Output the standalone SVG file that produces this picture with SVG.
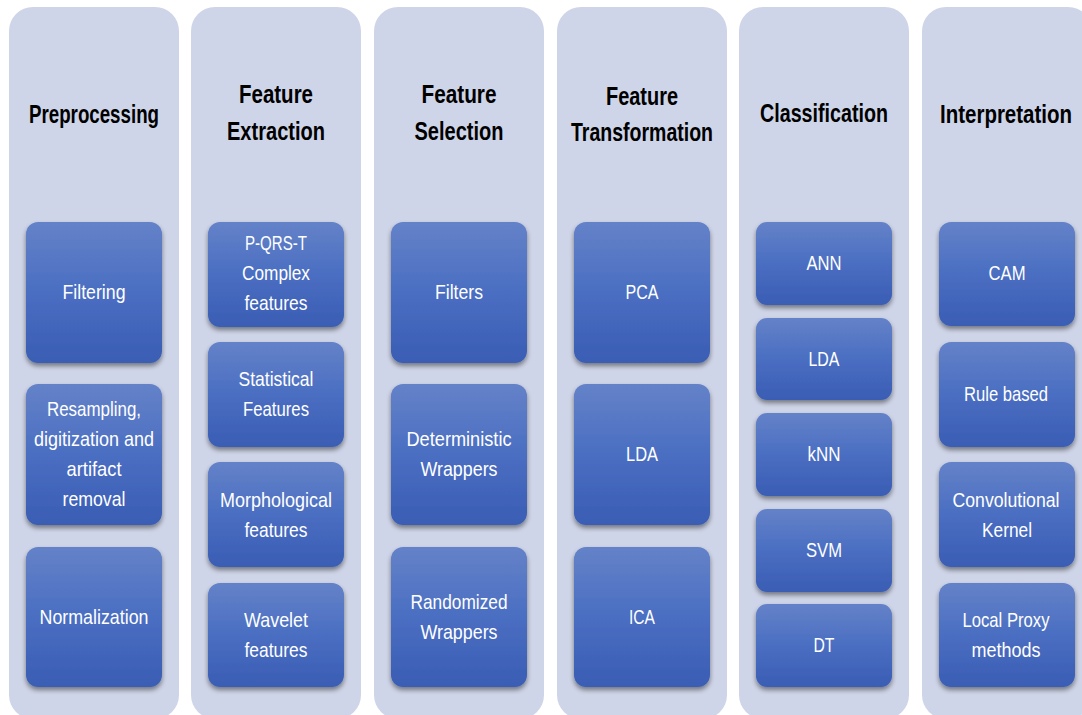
<svg xmlns="http://www.w3.org/2000/svg" width="1082" height="715" viewBox="0 0 1082 715">
  <defs>
    <linearGradient id="boxFill" x1="0" y1="0" x2="0" y2="1">
      <stop offset="0" stop-color="#6482c8"/>
      <stop offset="0.5" stop-color="#4a6ec2"/>
      <stop offset="1" stop-color="#3a5db4"/>
    </linearGradient>
    <filter id="shadow" x="-10%" y="-10%" width="120%" height="130%">
      <feGaussianBlur in="SourceAlpha" stdDeviation="2.5"/>
      <feOffset dx="0" dy="3" result="b"/>
      <feComponentTransfer><feFuncA type="linear" slope="0.45"/></feComponentTransfer>
      <feMerge><feMergeNode/><feMergeNode in="SourceGraphic"/></feMerge>
    </filter>
    <style>
      .col { fill: #cfd5e8; }
      .box { fill: url(#boxFill); filter: url(#shadow); }
      .head { font-family: "Liberation Sans", "DejaVu Sans", sans-serif; font-weight: bold; font-size: 26px; fill: #000; text-anchor: middle; }
      .lbl { font-family: "Liberation Sans", "DejaVu Sans", sans-serif; font-size: 21px; fill: #fff; text-anchor: middle; }
    </style>
  </defs>
  <rect width="1082" height="715" fill="#ffffff"/>

  <!-- Preprocessing -->
  <g id="preprocessing">
    <rect class="col" x="9" y="7" width="170" height="712" rx="24"/>
    <text class="head" x="94" y="123" textLength="130" lengthAdjust="spacingAndGlyphs">Preprocessing</text>
    <g id="filtering"><rect class="box" x="26" y="222" width="136" height="141" rx="12"/>
      <text class="lbl" x="94" y="299" textLength="63" lengthAdjust="spacingAndGlyphs">Filtering</text></g>
    <g id="resampling"><rect class="box" x="26" y="384" width="136" height="141" rx="12"/>
      <text class="lbl" x="94" y="416" textLength="94" lengthAdjust="spacingAndGlyphs">Resampling,</text>
      <text class="lbl" x="94" y="446" textLength="120" lengthAdjust="spacingAndGlyphs">digitization and</text>
      <text class="lbl" x="94" y="476" textLength="55" lengthAdjust="spacingAndGlyphs">artifact</text>
      <text class="lbl" x="94" y="506" textLength="63" lengthAdjust="spacingAndGlyphs">removal</text></g>
    <g id="normalization"><rect class="box" x="26" y="547" width="136" height="140" rx="12"/>
      <text class="lbl" x="94" y="624" textLength="109" lengthAdjust="spacingAndGlyphs">Normalization</text></g>
  </g>

  <!-- Feature Extraction -->
  <g id="feature-extraction">
    <rect class="col" x="191" y="7" width="170" height="712" rx="24"/>
    <text class="head" x="276" y="103" textLength="74" lengthAdjust="spacingAndGlyphs">Feature</text>
    <text class="head" x="276" y="140" textLength="98" lengthAdjust="spacingAndGlyphs">Extraction</text>
    <g id="pqrst"><rect class="box" x="208" y="222" width="136" height="105" rx="12"/>
      <text class="lbl" x="276" y="250" textLength="62" lengthAdjust="spacingAndGlyphs">P-QRS-T</text>
      <text class="lbl" x="276" y="280" textLength="68" lengthAdjust="spacingAndGlyphs">Complex</text>
      <text class="lbl" x="276" y="310" textLength="63" lengthAdjust="spacingAndGlyphs">features</text></g>
    <g id="statistical"><rect class="box" x="208" y="342" width="136" height="105" rx="12"/>
      <text class="lbl" x="276" y="386" textLength="75" lengthAdjust="spacingAndGlyphs">Statistical</text>
      <text class="lbl" x="276" y="416" textLength="66" lengthAdjust="spacingAndGlyphs">Features</text></g>
    <g id="morphological"><rect class="box" x="208" y="462" width="136" height="105" rx="12"/>
      <text class="lbl" x="276" y="507" textLength="112" lengthAdjust="spacingAndGlyphs">Morphological</text>
      <text class="lbl" x="276" y="537" textLength="63" lengthAdjust="spacingAndGlyphs">features</text></g>
    <g id="wavelet"><rect class="box" x="208" y="583" width="136" height="104" rx="12"/>
      <text class="lbl" x="276" y="627" textLength="64" lengthAdjust="spacingAndGlyphs">Wavelet</text>
      <text class="lbl" x="276" y="657" textLength="63" lengthAdjust="spacingAndGlyphs">features</text></g>
  </g>

  <!-- Feature Selection -->
  <g id="feature-selection">
    <rect class="col" x="374" y="7" width="170" height="712" rx="24"/>
    <text class="head" x="459" y="103" textLength="75" lengthAdjust="spacingAndGlyphs">Feature</text>
    <text class="head" x="459" y="140" textLength="89" lengthAdjust="spacingAndGlyphs">Selection</text>
    <g id="filters"><rect class="box" x="391" y="222" width="136" height="141" rx="12"/>
      <text class="lbl" x="459" y="299" textLength="48" lengthAdjust="spacingAndGlyphs">Filters</text></g>
    <g id="deterministic"><rect class="box" x="391" y="384" width="136" height="141" rx="12"/>
      <text class="lbl" x="459" y="446" textLength="105" lengthAdjust="spacingAndGlyphs">Deterministic</text>
      <text class="lbl" x="459" y="476" textLength="77" lengthAdjust="spacingAndGlyphs">Wrappers</text></g>
    <g id="randomized"><rect class="box" x="391" y="547" width="136" height="140" rx="12"/>
      <text class="lbl" x="459" y="609" textLength="97" lengthAdjust="spacingAndGlyphs">Randomized</text>
      <text class="lbl" x="459" y="639" textLength="77" lengthAdjust="spacingAndGlyphs">Wrappers</text></g>
  </g>

  <!-- Feature Transformation -->
  <g id="feature-transformation">
    <rect class="col" x="557" y="7" width="170" height="712" rx="24"/>
    <text class="head" x="642" y="105" textLength="72" lengthAdjust="spacingAndGlyphs">Feature</text>
    <text class="head" x="642" y="141" textLength="142" lengthAdjust="spacingAndGlyphs">Transformation</text>
    <g id="pca"><rect class="box" x="574" y="222" width="136" height="141" rx="12"/>
      <text class="lbl" x="642" y="299" textLength="33" lengthAdjust="spacingAndGlyphs">PCA</text></g>
    <g id="lda-t"><rect class="box" x="574" y="384" width="136" height="141" rx="12"/>
      <text class="lbl" x="642" y="461" textLength="32" lengthAdjust="spacingAndGlyphs">LDA</text></g>
    <g id="ica"><rect class="box" x="574" y="547" width="136" height="140" rx="12"/>
      <text class="lbl" x="642" y="624" textLength="26" lengthAdjust="spacingAndGlyphs">ICA</text></g>
  </g>

  <!-- Classification -->
  <g id="classification">
    <rect class="col" x="739" y="7" width="170" height="712" rx="24"/>
    <text class="head" x="824" y="122" textLength="128" lengthAdjust="spacingAndGlyphs">Classification</text>
    <g id="ann"><rect class="box" x="756" y="222" width="136" height="83" rx="11"/>
      <text class="lbl" x="824" y="270" textLength="35" lengthAdjust="spacingAndGlyphs">ANN</text></g>
    <g id="lda-c"><rect class="box" x="756" y="318" width="136" height="82" rx="11"/>
      <text class="lbl" x="824" y="366" textLength="31" lengthAdjust="spacingAndGlyphs">LDA</text></g>
    <g id="knn"><rect class="box" x="756" y="413" width="136" height="83" rx="11"/>
      <text class="lbl" x="824" y="461" textLength="33" lengthAdjust="spacingAndGlyphs">kNN</text></g>
    <g id="svm"><rect class="box" x="756" y="509" width="136" height="83" rx="11"/>
      <text class="lbl" x="824" y="557" textLength="36" lengthAdjust="spacingAndGlyphs">SVM</text></g>
    <g id="dt"><rect class="box" x="756" y="604" width="136" height="83" rx="11"/>
      <text class="lbl" x="824" y="652" textLength="21" lengthAdjust="spacingAndGlyphs">DT</text></g>
  </g>

  <!-- Interpretation -->
  <g id="interpretation">
    <rect class="col" x="922" y="7" width="170" height="712" rx="24"/>
    <text class="head" x="1006" y="123" textLength="132" lengthAdjust="spacingAndGlyphs">Interpretation</text>
    <g id="cam"><rect class="box" x="939" y="222" width="136" height="104" rx="12"/>
      <text class="lbl" x="1007" y="280" textLength="37" lengthAdjust="spacingAndGlyphs">CAM</text></g>
    <g id="rule"><rect class="box" x="939" y="342" width="136" height="105" rx="12"/>
      <text class="lbl" x="1006" y="401" textLength="84" lengthAdjust="spacingAndGlyphs">Rule based</text></g>
    <g id="conv"><rect class="box" x="939" y="462" width="136" height="105" rx="12"/>
      <text class="lbl" x="1006" y="507" textLength="107" lengthAdjust="spacingAndGlyphs">Convolutional</text>
      <text class="lbl" x="1007" y="537" textLength="50" lengthAdjust="spacingAndGlyphs">Kernel</text></g>
    <g id="proxy"><rect class="box" x="939" y="583" width="136" height="104" rx="12"/>
      <text class="lbl" x="1006" y="627" textLength="87" lengthAdjust="spacingAndGlyphs">Local Proxy</text>
      <text class="lbl" x="1006" y="657" textLength="69" lengthAdjust="spacingAndGlyphs">methods</text></g>
  </g>

  <!-- no connectors between stages -->
  <g id="connectors"/>
</svg>
